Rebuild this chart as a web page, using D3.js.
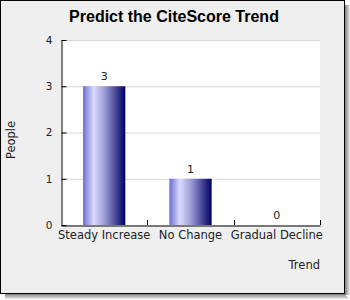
<!DOCTYPE html>
<html>
<head>
<meta charset="utf-8">
<script src="https://cdn.jsdelivr.net/npm/d3@7"></script>
<style>
  body { margin: 0; background: #fff; }
  svg { display: block; }
</style>
</head>
<body>
<svg id="chart" width="350" height="300"></svg>
<script>
const categories = ["Steady Increase", "No Change", "Gradual Decline"];
const people = [3, 1, 0];
const yTicks = [0, 1, 2, 3, 4];

const width = 350, height = 300;
const margin = { top: 40, right: 30, bottom: 75, left: 61 };
const svg = d3.select("#chart").style("font-family", "'DejaVu Sans', sans-serif");

// frame with drop shadow
const shadow = ["#8a8a8a", "#a0a0a0", "#b6b6b6", "#cccccc", "#e2e2e2"];
shadow.forEach((c, i) => {
  svg.append("rect").attr("x", 345 + i).attr("y", 5).attr("width", 1).attr("height", 295 - 5).attr("fill", c);
  svg.append("rect").attr("x", 5).attr("y", 294 + i).attr("width", 345 - 5 + i).attr("height", 1).attr("fill", c);
});
svg.append("rect")
  .attr("x", 0.5).attr("y", 0.5).attr("width", 344).attr("height", 293)
  .attr("fill", "#efefef").attr("stroke", "#000");

const x = d3.scaleBand()
  .domain(categories)
  .range([margin.left, width - margin.right])
  .paddingInner(0.51).paddingOuter(0.255);
const band = d3.scaleBand().domain(categories).range([margin.left, width - margin.right]);
const y = d3.scaleLinear().domain([0, 4]).range([height - margin.bottom, margin.top]);

// plot background
svg.append("rect")
  .attr("x", margin.left).attr("y", margin.top)
  .attr("width", width - margin.right - margin.left)
  .attr("height", y(0) - margin.top)
  .attr("fill", "#fff");

// grid
svg.append("g")
  .selectAll("line")
  .data(yTicks.filter(d => d > 0))
  .join("line")
  .attr("x1", margin.left).attr("x2", width - margin.right)
  .attr("y1", d => y(d) + 0.5).attr("y2", d => y(d) + 0.5)
  .attr("stroke", "#d6d6d6");

// gradient
const grad = svg.append("defs").append("linearGradient").attr("id", "barGrad");
[[0, "#6e6ed2"], [0.25, "#dadaff"], [0.5, "#a0a0d8"], [1, "#000064"]].forEach(([o, c]) =>
  grad.append("stop").attr("offset", o).attr("stop-color", c));

svg.append("g")
  .selectAll("rect")
  .data(people)
  .join("rect")
  .attr("x", (d, i) => x(categories[i]))
  .attr("y", d => y(d))
  .attr("width", x.bandwidth())
  .attr("height", d => y(0) - y(d))
  .attr("fill", "url(#barGrad)");

// value labels
svg.append("g")
  .selectAll("text")
  .data(people)
  .join("text")
  .attr("x", (d, i) => x(categories[i]) + x.bandwidth() / 2)
  .attr("y", d => y(d) - 6)
  .attr("text-anchor", "middle")
  .style("font-size", "11px")
  .attr("fill", "#222")
  .text(d => d);

// y axis
const yAxis = svg.append("g")
  .attr("transform", `translate(${margin.left + 0.5},0)`)
  .call(d3.axisLeft(y).tickValues(yTicks).tickFormat(d3.format("d")).tickSizeInner(-5).tickSizeOuter(0).tickPadding(9));
yAxis.selectAll("path, line").attr("stroke", "#000");
yAxis.selectAll("text").style("font-size", "10.5px").style("font-family", "'DejaVu Sans'").attr("fill", "#222");

// x axis
const xAxis = svg.append("g")
  .attr("transform", `translate(0,${y(0) + 0.5})`)
  .call(d3.axisBottom(band).tickSize(0).tickPadding(5));
xAxis.select("path").attr("stroke", "#000");
xAxis.selectAll("text").style("font-size", "11.5px").style("font-family", "'DejaVu Sans'").attr("fill", "#222");
svg.append("g")
  .selectAll("line")
  .data(categories)
  .join("line")
  .attr("x1", d => Math.round(band(d) + band.bandwidth()) + 0.5)
  .attr("x2", d => Math.round(band(d) + band.bandwidth()) + 0.5)
  .attr("y1", y(0)).attr("y2", y(0) - 5)
  .attr("stroke", "#000");

// titles
svg.append("text")
  .attr("x", 174).attr("y", 22)
  .attr("text-anchor", "middle")
  .style("font-family", "'Liberation Sans', Arial, sans-serif")
  .style("font-weight", "bold")
  .style("font-size", "16px")
  .text("Predict the CiteScore Trend");

svg.append("text")
  .attr("transform", `translate(15,140) rotate(-90)`)
  .attr("text-anchor", "middle")
  .style("font-size", "11.5px")
  .attr("fill", "#222")
  .text("People");

svg.append("text")
  .attr("x", width - margin.right).attr("y", 269)
  .attr("text-anchor", "end")
  .style("font-size", "11.5px")
  .attr("fill", "#222")
  .text("Trend");
</script>
</body>
</html>
